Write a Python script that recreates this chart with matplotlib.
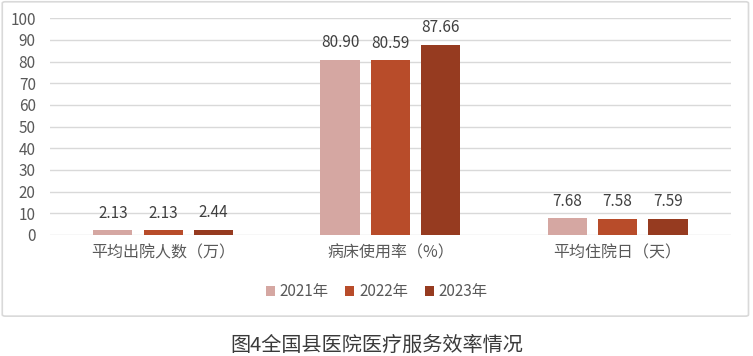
import matplotlib.pyplot as plt
import numpy as np
from matplotlib.patches import FancyBboxPatch

plt.rcParams['font.family'] = ['Noto Sans CJK SC', 'DejaVu Sans']

categories = ["平均出院人数（万）", "病床使用率（%）", "平均住院日（天）"]
years = ["2021年", "2022年", "2023年"]
values = {
    "2021年": [2.13, 80.90, 7.68],
    "2022年": [2.13, 80.59, 7.58],
    "2023年": [2.44, 87.66, 7.59],
}
colors = ["#D5A7A2", "#B84C2A", "#963B20"]

fig = plt.figure(figsize=(7.53, 3.56), dpi=100)

# outer chart frame (outline only, drawn behind the axes)
frame = FancyBboxPatch((0.003, 0.112), 0.991, 0.883, boxstyle="round,pad=0,rounding_size=0.004",
                       transform=fig.transFigure, facecolor="none", edgecolor="#D9D9D9",
                       linewidth=1.2, zorder=-1)
fig.patches.append(frame)

ax = fig.add_axes([0.066, 0.340, 0.905, 0.609])
ax.patch.set_alpha(0)
x = np.arange(len(categories))
w = 0.172
step = 0.222
for i, (yr, c) in enumerate(zip(years, colors)):
    pos = x + (i - 1) * step
    bars = ax.bar(pos, values[yr], width=w, color=c, label=yr, zorder=3)
    for b, v in zip(bars, values[yr]):
        ax.text(b.get_x() + b.get_width() / 2, v + 4, f"{v:.2f}", ha="center", va="bottom",
                fontsize=11, color="#404040")

ax.set_ylim(0, 100)
ax.set_xlim(-0.5, 2.5)
ax.set_yticks(range(0, 101, 10))
ax.set_xticks(x)
ax.set_xticklabels(categories, fontsize=11.5, color="#595959")
ax.tick_params(axis="y", labelsize=11, labelcolor="#595959", length=0, pad=10)
ax.tick_params(axis="x", length=0, pad=7)
ax.grid(axis="y", color="#D9D9D9", linewidth=1, zorder=0)
for s in ax.spines.values():
    s.set_visible(False)

fig.legend(loc="center", bbox_to_anchor=(0.5, 0.18), ncol=3, frameon=False,
           fontsize=11, handlelength=0.6, handleheight=0.6, handletextpad=0.3,
           columnspacing=1.1, labelcolor="#595959")

fig.text(0.5, 0.03, "图4全国县医院医疗服务效率情况", ha="center", va="center",
         fontsize=14.5, color="#3A3A3A")

fig.savefig("out.png", dpi=100)
